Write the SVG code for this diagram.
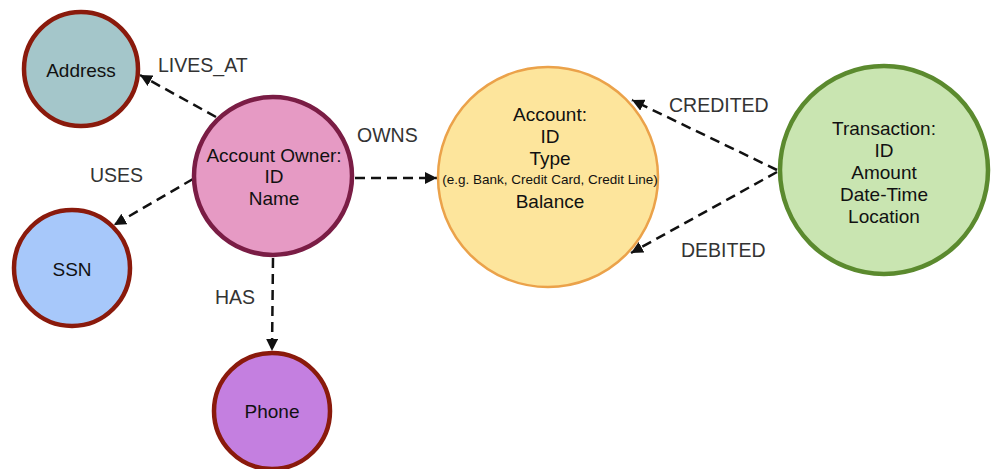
<svg xmlns="http://www.w3.org/2000/svg" width="995" height="469" viewBox="0 0 995 469">
  <style>
    .node-text { font-family: "Liberation Sans", Arial, sans-serif; font-size: 19px; fill: #111; text-anchor: middle; }
    .small { font-size: 13.5px; }
    .label { font-family: "Liberation Sans", Arial, sans-serif; font-size: 19.5px; fill: #333; }
    .edge { fill: none; stroke: #111; stroke-width: 2.5; stroke-dasharray: 10 6; }
    .red-ring { stroke: #8a1a0c; stroke-width: 4.5; }
  </style>
  <defs>
    <marker id="arrow" viewBox="0 0 12 12" refX="12" refY="6" markerWidth="12" markerHeight="12" markerUnits="userSpaceOnUse" orient="auto">
      <path d="M0,0 L12,6 L0,12 Z" fill="#111"/>
    </marker>
  </defs>
  <rect width="995" height="469" fill="#ffffff"/>

  <!-- connectors -->
  <g id="edges">
    <line class="edge" x1="216" y1="117" x2="140" y2="75" marker-end="url(#arrow)"/>
    <line class="edge" x1="193" y1="179" x2="114" y2="225" marker-end="url(#arrow)"/>
    <line class="edge" x1="355" y1="178" x2="437" y2="178" marker-end="url(#arrow)"/>
    <line class="edge" x1="273" y1="258" x2="272" y2="351" marker-end="url(#arrow)"/>
    <line class="edge" x1="777" y1="170" x2="632" y2="100" marker-end="url(#arrow)"/>
    <line class="edge" x1="777" y1="172" x2="631" y2="253" marker-end="url(#arrow)"/>
    <text class="label" x="158" y="72">LIVES_AT</text>
    <text class="label" x="90" y="182">USES</text>
    <text class="label" x="357" y="142">OWNS</text>
    <text class="label" x="215" y="304">HAS</text>
    <text class="label" x="669" y="112">CREDITED</text>
    <text class="label" x="681" y="257">DEBITED</text>
  </g>

  <g id="address">
    <circle cx="81" cy="69" r="57" fill="#a4c6ca" class="red-ring"/>
    <text class="node-text" x="81" y="77">Address</text>
  </g>

  <g id="ssn">
    <circle cx="72" cy="268" r="58" fill="#a7c8fa" class="red-ring"/>
    <text class="node-text" x="72" y="276">SSN</text>
  </g>

  <g id="phone">
    <circle cx="272" cy="411" r="58" fill="#c47fe0" class="red-ring"/>
    <text class="node-text" x="272" y="418">Phone</text>
  </g>

  <g id="account-owner">
    <circle cx="273" cy="176" r="79" fill="#e69ac4" stroke="#7a1d45" stroke-width="4.5"/>
    <text class="node-text" x="274" y="162">Account Owner:</text>
    <text class="node-text" x="274" y="183">ID</text>
    <text class="node-text" x="274" y="205">Name</text>
  </g>

  <g id="account">
    <circle cx="548" cy="177" r="110" fill="#fde59c" stroke="#eba24a" stroke-width="2.5"/>
    <text class="node-text" x="550" y="121">Account:</text>
    <text class="node-text" x="550" y="143">ID</text>
    <text class="node-text" x="550" y="165">Type</text>
    <text class="node-text small" x="550" y="184">(e.g. Bank, Credit Card, Credit Line)</text>
    <text class="node-text" x="550" y="208">Balance</text>
  </g>

  <g id="transaction">
    <circle cx="884" cy="170" r="104" fill="#c9e5b1" stroke="#5b8a2e" stroke-width="4.5"/>
    <text class="node-text" x="884" y="135">Transaction:</text>
    <text class="node-text" x="884" y="157">ID</text>
    <text class="node-text" x="884" y="179">Amount</text>
    <text class="node-text" x="884" y="201">Date-Time</text>
    <text class="node-text" x="884" y="223">Location</text>
  </g>
</svg>
